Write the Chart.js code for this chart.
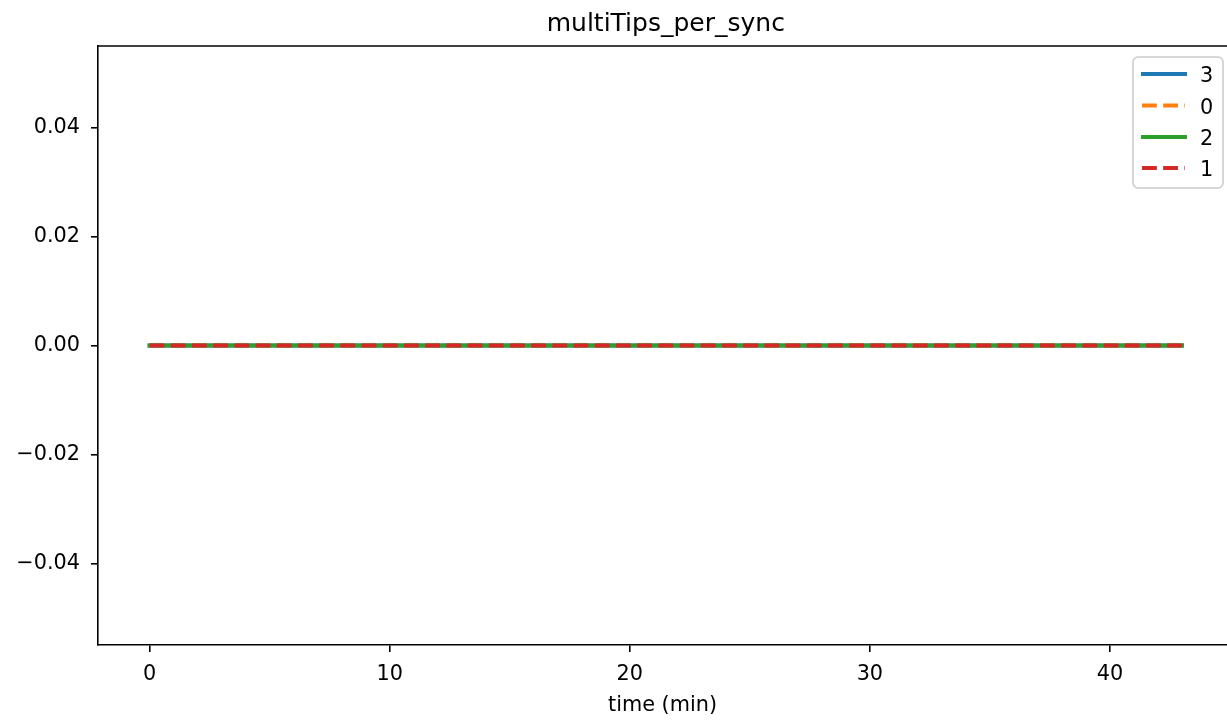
<!DOCTYPE html>
<html>
<head>
<meta charset="utf-8">
<title>multiTips_per_sync</title>
<script src="https://cdn.jsdelivr.net/npm/chart.js@4.4.1/dist/chart.umd.min.js"></script>
<style>
  html, body { margin: 0; padding: 0; background: #fff; }
  #chart { display: block; }
</style>
</head>
<body>
<canvas id="chart" width="1227" height="723"></canvas>
<script>
// time axis (minutes)
const times = [
  0, 1, 2, 3, 4, 5, 6, 7, 8, 9, 10, 11, 12, 13, 14, 15, 16, 17, 18, 19, 20, 21,
  22, 23, 24, 25, 26, 27, 28, 29, 30, 31, 32, 33, 34, 35, 36, 37, 38, 39, 40, 41, 42, 43,
];

// multiTips per sync, one series per node
const node3 = [
  0, 0, 0, 0, 0, 0, 0, 0, 0, 0, 0, 0, 0, 0, 0, 0, 0, 0, 0, 0, 0, 0,
  0, 0, 0, 0, 0, 0, 0, 0, 0, 0, 0, 0, 0, 0, 0, 0, 0, 0, 0, 0, 0, 0,
];
const node0 = [
  0, 0, 0, 0, 0, 0, 0, 0, 0, 0, 0, 0, 0, 0, 0, 0, 0, 0, 0, 0, 0, 0,
  0, 0, 0, 0, 0, 0, 0, 0, 0, 0, 0, 0, 0, 0, 0, 0, 0, 0, 0, 0, 0, 0,
];
const node2 = [
  0, 0, 0, 0, 0, 0, 0, 0, 0, 0, 0, 0, 0, 0, 0, 0, 0, 0, 0, 0, 0, 0,
  0, 0, 0, 0, 0, 0, 0, 0, 0, 0, 0, 0, 0, 0, 0, 0, 0, 0, 0, 0, 0, 0,
];
const node1 = [
  0, 0, 0, 0, 0, 0, 0, 0, 0, 0, 0, 0, 0, 0, 0, 0, 0, 0, 0, 0, 0, 0,
  0, 0, 0, 0, 0, 0, 0, 0, 0, 0, 0, 0, 0, 0, 0, 0, 0, 0, 0, 0, 0, 0,
];

const xTicks = [0, 10, 20, 30, 40];
const xTickLabels = ["0", "10", "20", "30", "40"];
const yTicks = [-0.04, -0.02, 0, 0.02, 0.04];
const yTickLabels = ["\u22120.04", "\u22120.02", "0.00", "0.02", "0.04"];

const titleText = "multiTips_per_sync";

Chart.defaults.font.family = "'DejaVu Sans', sans-serif";
Chart.defaults.color = "#000";

function toPoints(ys) {
  return times.map((t, i) => ({ x: t, y: ys[i] }));
}

// title centred over the axes, top spine, and a matplotlib-like legend box
const boxLegend = {
  id: "boxLegend",
  afterDraw(chart) {
    const ctx = chart.ctx;
    const area = chart.chartArea;
    ctx.save();

    ctx.fillStyle = "#000";
    ctx.font = "25px 'DejaVu Sans'";
    ctx.textAlign = "center";
    ctx.textBaseline = "alphabetic";
    ctx.fillText(titleText, (area.left + 1233.6) / 2, 31);

    ctx.strokeStyle = "#000";
    ctx.lineWidth = 1.6;
    ctx.beginPath();
    ctx.moveTo(area.left - 0.8, area.top);
    ctx.lineTo(area.right, area.top);
    ctx.stroke();

    const x0 = 1133, y0 = 57, w = 90, h = 131;
    ctx.fillStyle = "rgba(255,255,255,0.8)";
    ctx.strokeStyle = "#cccccc";
    ctx.lineWidth = 1.6;
    ctx.beginPath();
    ctx.roundRect(x0, y0, w, h, 5);
    ctx.fill();
    ctx.stroke();

    const rows = [74, 105.5, 137, 168];
    chart.data.datasets.forEach((ds, i) => {
      const y = rows[i];
      ctx.strokeStyle = ds.borderColor;
      ctx.lineWidth = ds.borderWidth;
      ctx.setLineDash(ds.borderDash || []);
      ctx.lineCap = ds.borderDash ? "butt" : "square";
      ctx.beginPath();
      if (ds.borderDash) {
        ctx.moveTo(1142, y);
        ctx.lineTo(1185, y);
      } else {
        ctx.moveTo(1143, y);
        ctx.lineTo(1185, y);
      }
      ctx.stroke();
      ctx.setLineDash([]);
      ctx.fillStyle = "#000";
      ctx.font = "20.8px 'DejaVu Sans'";
      ctx.textAlign = "left";
      ctx.textBaseline = "middle";
      ctx.fillText(ds.label, 1200, y + 3);
    });
    ctx.restore();
  },
};

const dash = [14.8, 6.4];

new Chart(document.getElementById("chart"), {
  type: "line",
  data: {
    datasets: [
      { label: "3", data: toPoints(node3), borderColor: "#1f77b4", borderWidth: 4, order: 3, borderCapStyle: "square" },
      { label: "0", data: toPoints(node0), borderColor: "#ff7f0e", borderWidth: 4, order: 2, borderDash: dash },
      { label: "2", data: toPoints(node2), borderColor: "#2ca02c", borderWidth: 4, order: 1, borderCapStyle: "square" },
      { label: "1", data: toPoints(node1), borderColor: "#d62728", borderWidth: 4, order: 0, borderDash: dash },
    ],
  },
  options: {
    responsive: false,
    animation: false,
    devicePixelRatio: 1,
    layout: { padding: { top: 46, left: 0, right: 0, bottom: 0 } },
    elements: {
      point: { radius: 0 },
      line: { tension: 0, fill: false },
    },
    scales: {
      x: {
        type: "linear",
        min: -2.15,
        max: 44.875,
        afterFit: (scale) => { scale.height = 78; },
        afterBuildTicks: (scale) => {
          scale.ticks = xTicks.map((v) => ({ value: v }));
        },
        ticks: {
          font: { size: 20.8 },
          color: "#000",
          padding: 10,
          maxRotation: 0,
          autoSkip: false,
          callback: (v, i) => xTickLabels[i],
        },
        grid: {
          display: true,
          drawOnChartArea: false,
          drawTicks: true,
          tickLength: 7,
          color: "#000",
          lineWidth: 1.6,
        },
        border: { display: true, color: "#000", width: 1.6 },
        title: {
          display: true,
          text: "time (min)",
          font: { size: 20.8 },
          color: "#000",
          padding: { top: 0, bottom: 5 },
        },
      },
      y: {
        type: "linear",
        min: -0.055,
        max: 0.055,
        afterFit: (scale) => { scale.width = 98; },
        afterBuildTicks: (scale) => {
          scale.ticks = yTicks.map((v) => ({ value: v }));
        },
        ticks: {
          font: { size: 20.8 },
          color: "#000",
          padding: 11,
          autoSkip: false,
          callback: (v, i) => yTickLabels[i],
        },
        grid: {
          display: true,
          drawOnChartArea: false,
          drawTicks: true,
          tickLength: 7,
          color: "#000",
          lineWidth: 1.6,
        },
        border: { display: true, color: "#000", width: 1.6 },
      },
    },
    plugins: {
      legend: { display: false },
      tooltip: { enabled: false },
      title: { display: false },
    },
  },
  plugins: [boxLegend],
});
</script>
</body>
</html>
